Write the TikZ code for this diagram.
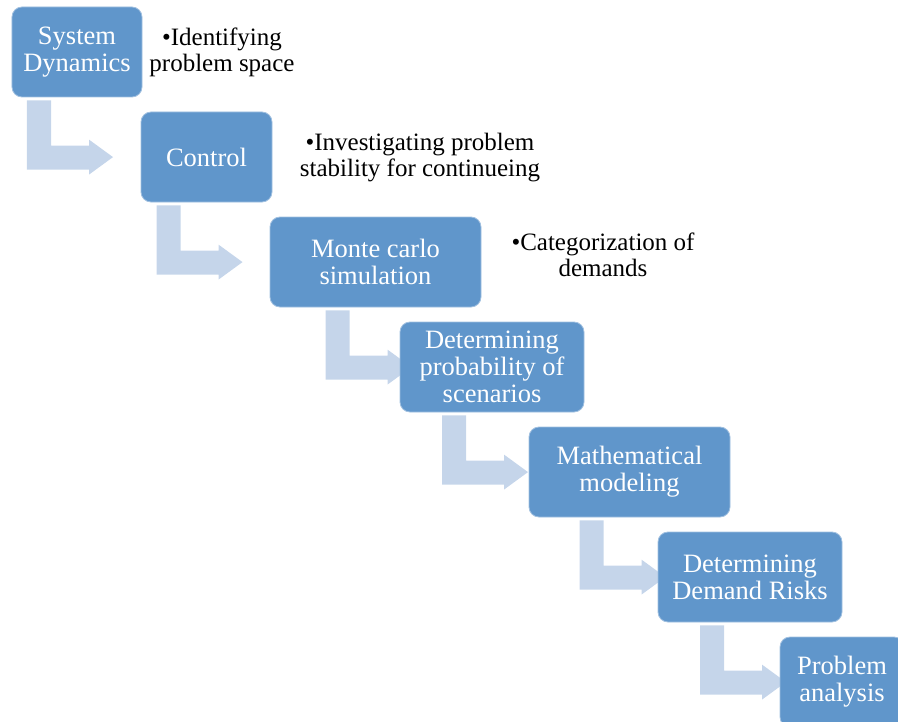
\documentclass[tikz,border=0pt]{standalone}
\usepackage{fontspec}
\setmainfont{Liberation Serif}
\usetikzlibrary{calc,backgrounds}
\definecolor{boxblue}{RGB}{96,150,203}
\definecolor{arrowblue}{RGB}{197,213,234}
\tikzset{
  box/.style={rectangle, rounded corners=10bp, fill=boxblue, draw=boxblue!60!white, line width=0.8bp,
    minimum height=90bp, inner sep=0pt, align=center, text=white,
    font=\fontsize{26.5bp}{27bp}\selectfont},
  note/.style={inner sep=0pt, align=center, text=black, font=\fontsize{25bp}{26bp}\selectfont},
  bentfill/.style={fill=arrowblue, draw=none}
}
\newcommand\bentarrow[2]{%
  \path[bentfill] let \p1=(#1.south), \p2=(#2.north) in
    (\x1-50bp,\y1-3bp) -- (\x1-26bp,\y1-3bp) -- (\x1-26bp,\y2-34bp) -- (\x1+12bp,\y2-34bp)
    -- (\x1+12bp,\y2-28bp) -- (\x1+36bp,\y2-45.5bp) -- (\x1+12bp,\y2-63bp) -- (\x1+12bp,\y2-58bp)
    -- (\x1-50bp,\y2-58bp) -- cycle;}
\begin{document}
\begin{tikzpicture}[x=1bp,y=-1bp]
\path[use as bounding box] (0,0) rectangle (898,722);
\clip (0,0) rectangle (898,722);
\node[box, minimum width=130bp] (s1) at (77,52) {System\\Dynamics};
\node[box, minimum width=131bp] (s2) at (206.5,157) {Control};
\node[box, minimum width=211bp] (s3) at (375.5,262) {Monte carlo\\simulation};
\node[box, minimum width=184bp] (s4) at (492,367) {Determining\\probability of\\scenarios};
\node[box, minimum width=201bp] (s5) at (629.5,472) {Mathematical\\modeling};
\node[box, minimum width=184bp] (s6) at (750,577) {Determining\\Demand Risks};
\node[box, minimum width=124bp] (s7) at (842,682) {Problem\\analysis};
\begin{scope}[on background layer]
\bentarrow{s1}{s2}
\bentarrow{s2}{s3}
\bentarrow{s3}{s4}
\bentarrow{s4}{s5}
\bentarrow{s5}{s6}
\bentarrow{s6}{s7}
\end{scope}
\node[note] (n1) at (222,52) {•Identifying\\problem space};
\node[note] (n2) at (420,158) {•Investigating problem\\stability for continueing};
\node[note] (n3) at (603,255) {•Categorization of\\demands};
\end{tikzpicture}
\end{document}
